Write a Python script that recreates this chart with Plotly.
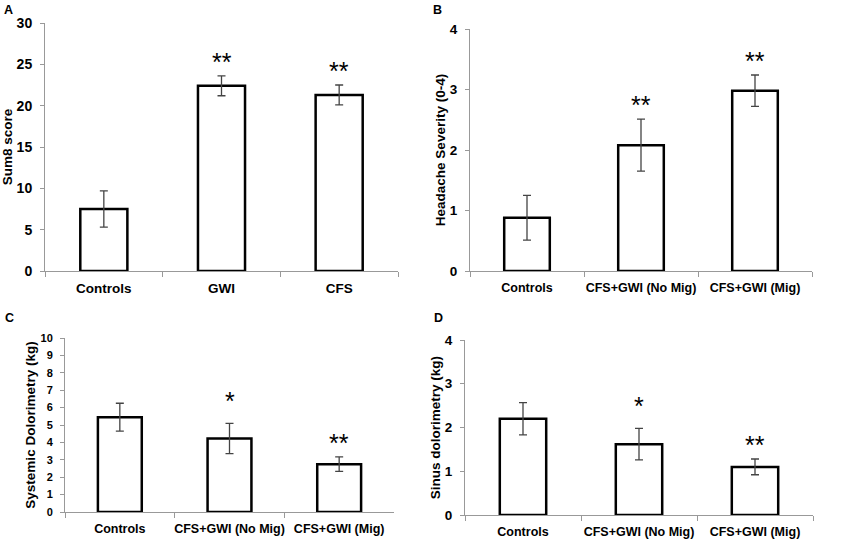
import plotly.graph_objects as go

# panel A
cats_a = ['Controls', 'GWI', 'CFS']
vals_a = [7.5, 22.4, 21.3]
err_a = [2.2, 1.2, 1.2]
stars_a = ['', '**', '**']

# panels B, C, D share the migraine grouping
cats_mig = ['Controls', 'CFS+GWI (No Mig)', 'CFS+GWI (Mig)']
vals_b = [0.88, 2.08, 2.98]
err_b = [0.37, 0.43, 0.26]
stars_b = ['', '**', '**']

vals_c = [5.45, 4.22, 2.75]
err_c = [0.8, 0.87, 0.42]
stars_c = ['', '*', '**']

vals_d = [2.2, 1.62, 1.1]
err_d = [0.37, 0.36, 0.18]
stars_d = ['', '*', '**']

FONT = 'Arial, Liberation Sans, sans-serif'
W, H = 843, 539

panels = [
    # cats, vals, err, stars, y title, y range, dtick, x px, y px (top, bottom), tick font, cat font, letter
    (cats_a, vals_a, err_a, stars_a, 'Sum8 score', [0, 30], 5, (45, 398), (23, 271), 14, 13.5, 'A', (8, 10)),
    (cats_mig, vals_b, err_b, stars_b, 'Headache Severity (0-4)', [0, 4], 1, (470, 812), (29, 271), 13.5, 12.5, 'B', (437, 10)),
    (cats_mig, vals_c, err_c, stars_c, 'Systemic Dolorimetry (kg)', [0, 10], 1, (65, 394), (338, 512), 11, 12.5, 'C', (9, 318)),
    (cats_mig, vals_d, err_d, stars_d, 'Sinus dolorimetry (kg)', [0, 4], 1, (465, 813), (340, 515), 13.5, 12.5, 'D', (438, 318)),
]

fig = go.Figure()
annotations = []

for i, (cats, vals, err, stars, ytitle, yrange, dtick, xpx, ypx, tfs, cfs, letter, lpos) in enumerate(panels):
    n = '' if i == 0 else str(i + 1)
    fig.add_trace(go.Bar(
        x=cats, y=vals,
        width=0.4,
        marker=dict(color='white', line=dict(color='black', width=2.5)),
        error_y=dict(type='data', array=err, color='#444444', thickness=1.3, width=4),
        xaxis='x' + n, yaxis='y' + n,
        showlegend=False, hoverinfo='skip',
    ))
    fig.layout['xaxis' + n] = dict(
        domain=[xpx[0] / W, xpx[1] / W],
        anchor='y' + n, automargin=False,
        showline=True, linecolor='#999999', linewidth=1,
        ticks='outside', tickson='boundaries', tickcolor='#999999', ticklen=5,
        tickangle=0, ticklabelstandoff=5,
        tickfont=dict(family=FONT, size=cfs, color='black', weight='bold'),
        showgrid=False, fixedrange=True,
    )
    fig.layout['yaxis' + n] = dict(
        domain=[1 - ypx[1] / H, 1 - ypx[0] / H],
        anchor='x' + n, automargin=False,
        range=yrange, dtick=dtick,
        showline=True, linecolor='#999999', linewidth=1,
        ticks='outside', tickcolor='#999999', ticklen=4, ticklabelstandoff=5,
        tickfont=dict(family=FONT, size=tfs, color='black', weight='bold'),
        title=dict(text=ytitle, standoff=1,
                   font=dict(family=FONT, size=13.5, color='black', weight='bold')),
        showgrid=False, zeroline=False, fixedrange=True,
    )
    for c, v, e, s in zip(cats, vals, err, stars):
        if s:
            annotations.append(dict(
                x=c, y=v + e, xref='x' + n, yref='y' + n,
                text=s, showarrow=False, yanchor='bottom',
                yshift=6 if s == '*' else -2,
                font=dict(family=FONT, size=25, color='black'),
            ))
    annotations.append(dict(
        x=lpos[0] / W, y=1 - lpos[1] / H, xref='paper', yref='paper',
        text=letter, showarrow=False, xanchor='center', yanchor='middle',
        font=dict(family=FONT, size=12.5, color='black', weight='bold'),
    ))

fig.update_layout(
    width=W, height=H,
    margin=dict(l=0, r=0, t=0, b=0, autoexpand=False),
    paper_bgcolor='white', plot_bgcolor='white',
    annotations=annotations,
    bargap=0.6,
)
# the page's default body margin would push the figure 8px off
fig.write_html("out.html", config={'displayModeBar': False},
               post_script="document.body.style.margin='0';")
